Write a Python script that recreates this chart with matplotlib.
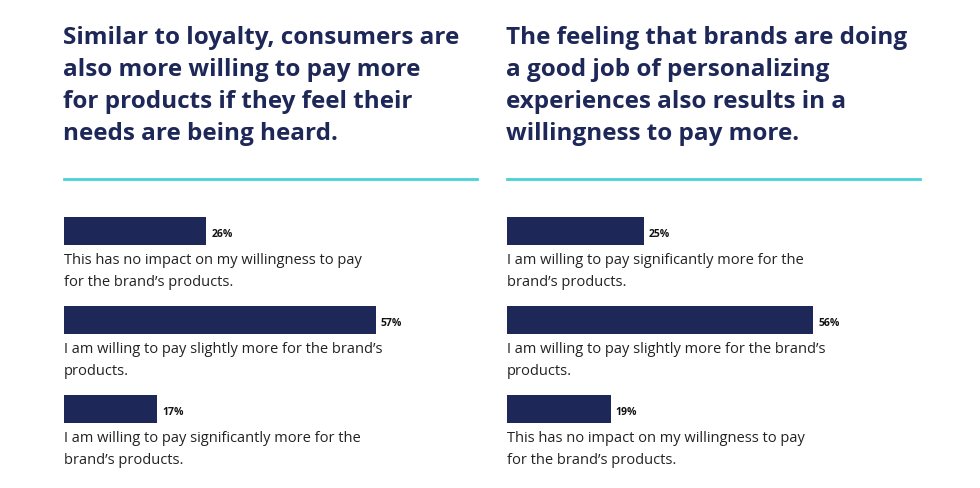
import matplotlib.pyplot as plt
from matplotlib.lines import Line2D

# ---- Data ----
left_title = ("Similar to loyalty, consumers are\nalso more willing to pay more\n"
              "for products if they feel their\nneeds are being heard.")
left_labels = ["This has no impact on my willingness to pay\nfor the brand\u2019s products.",
               "I am willing to pay slightly more for the brand\u2019s\nproducts.",
               "I am willing to pay significantly more for the\nbrand\u2019s products."]
left_values = [26, 57, 17]

right_title = ("The feeling that brands are doing\na good job of personalizing\n"
               "experiences also results in a\nwillingness to pay more.")
right_labels = ["I am willing to pay significantly more for the\nbrand\u2019s products.",
                "I am willing to pay slightly more for the brand\u2019s\nproducts.",
                "This has no impact on my willingness to pay\nfor the brand\u2019s products."]
right_values = [25, 56, 19]

NAVY = "#1e2858"
TEAL = "#48d1d6"
W, H = 980, 489

fig = plt.figure(figsize=(W / 100, H / 100), dpi=100)
fig.patch.set_facecolor("white")


def px(x, y):
    return x / W, 1 - y / H


def panel(x0, title, labels, values):
    # title
    tx, ty = px(x0 - 1, 26)
    fig.text(tx, ty, title, ha="left", va="top", fontsize=17.5, fontweight="bold",
             family="Open Sans", color=NAVY, linespacing=1.45)
    # rule
    lx0, ly = px(x0, 180)
    lx1, _ = px(x0 + 413, 180)
    fig.add_artist(Line2D([lx0, lx1], [ly, ly], color=TEAL, lw=2))

    # bars: 5.47 px per percent, 89 px per row
    xmax = 70
    left, top = px(x0, 187.5)
    _, bottom = px(x0, 187.5 + 3 * 89)
    ax = fig.add_axes([left, bottom, xmax * 5.47 / W, top - bottom])
    ax.set_xlim(0, xmax)
    ax.set_ylim(2.5, -0.5)
    ax.axis("off")
    rows = range(len(values))
    ax.barh(list(rows), values, height=0.315, color=NAVY, edgecolor="none")
    for r, v, lab in zip(rows, values, labels):
        ax.text(v + 0.9, r + 0.03, f"{v}%", ha="left", va="center", fontsize=7.5,
                fontweight="bold", family="Open Sans", color="#111111")
        ax.text(0, r + 0.24, lab, ha="left", va="top", fontsize=10.5,
                family="Open Sans", color="#222222", linespacing=1.56, clip_on=False)


panel(64, left_title, left_labels, left_values)
panel(507, right_title, right_labels, right_values)

fig.savefig("out.png", dpi=100)
